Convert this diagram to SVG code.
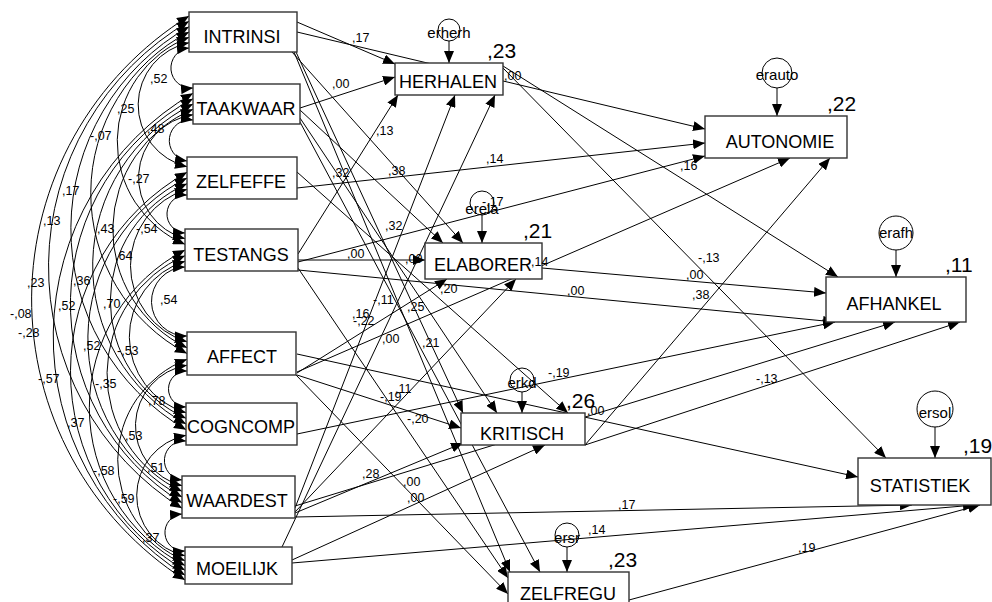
<svg xmlns="http://www.w3.org/2000/svg" width="992" height="602" viewBox="0 0 992 602">
<style>
.ln{stroke:#000;stroke-width:1;fill:none;marker-end:url(#ah)}
.cv{stroke:#000;stroke-width:1;fill:none;marker-start:url(#ah);marker-end:url(#ah)}
.box{fill:#fff;stroke:#333;stroke-width:1.4}
.ec{fill:none;stroke:#000;stroke-width:1}
text{font-family:"Liberation Sans",Arial,sans-serif;fill:#000}
.nm{font-size:18px;text-anchor:middle}
.lb{font-size:12.5px}
.r2{font-size:21px}
.er{font-size:15px;text-anchor:middle}
</style>
<defs>
<marker id="ah" viewBox="0 0 12 10" refX="12" refY="5" markerWidth="12" markerHeight="10" markerUnits="userSpaceOnUse" orient="auto-start-reverse"><path d="M0,0 L12,5 L0,10 z" fill="#000"/></marker>
</defs>
<rect width="992" height="602" fill="#fff"/>
<g id="connectors">
<path class="cv" d="M189,48 A20,20 0 0 0 193,88"/>
<path class="cv" d="M189,42.7 A63.5,63.5 0 0 0 187,166.7"/>
<path class="cv" d="M189,37.3 A111.7,111.7 0 0 0 185,244.3"/>
<path class="cv" d="M189,32 A181.5,181.5 0 0 0 187,353.5"/>
<path class="cv" d="M189,26.7 A232.4,232.4 0 0 0 186,429.7"/>
<path class="cv" d="M189,21.3 A285,285 0 0 0 182,508.3"/>
<path class="cv" d="M189,16 A333.6,333.6 0 0 0 185,580"/>
<path class="cv" d="M193,120 A20.5,20.5 0 0 0 187,161"/>
<path class="cv" d="M193,114.7 A63.5,63.5 0 0 0 185,238.7"/>
<path class="cv" d="M193,109.3 A130.7,130.7 0 0 0 187,347.7"/>
<path class="cv" d="M193,104 A180.7,180.7 0 0 0 186,424"/>
<path class="cv" d="M193,98.7 A233,233 0 0 0 182,502.7"/>
<path class="cv" d="M193,93.3 A281.8,281.8 0 0 0 185,575.2"/>
<path class="cv" d="M187,195 A19,19 0 0 0 185,233"/>
<path class="cv" d="M187,189.3 A79.7,79.7 0 0 0 187,341.8"/>
<path class="cv" d="M187,183.7 A128.4,128.4 0 0 0 186,418.3"/>
<path class="cv" d="M187,178 A180,180 0 0 0 182,497"/>
<path class="cv" d="M187,172.3 A229.2,229.2 0 0 0 185,570.3"/>
<path class="cv" d="M185,267 A34.5,34.5 0 0 0 187,336"/>
<path class="cv" d="M185,261.3 A79.1,79.1 0 0 0 186,412.7"/>
<path class="cv" d="M185,255.7 A129,129 0 0 0 182,491.3"/>
<path class="cv" d="M185,250 A177.9,177.9 0 0 0 185,565.5"/>
<path class="cv" d="M187,371 A18,18 0 0 0 186,407"/>
<path class="cv" d="M187,365.2 A61.6,61.6 0 0 0 182,485.7"/>
<path class="cv" d="M187,359.3 A108.4,108.4 0 0 0 185,560.7"/>
<path class="cv" d="M186,441 A19.5,19.5 0 0 0 182,480"/>
<path class="cv" d="M186,435.3 A61.6,61.6 0 0 0 185,555.8"/>
<path class="cv" d="M182,514 A18.5,18.5 0 0 0 185,551"/>
<line class="ln" x1="297" y1="22" x2="395" y2="64"/>
<line class="ln" x1="300" y1="108" x2="395" y2="77"/>
<line class="ln" x1="298" y1="254" x2="398" y2="95"/>
<line class="ln" x1="295" y1="508" x2="455" y2="95"/>
<line class="ln" x1="282" y1="547" x2="495" y2="95"/>
<line class="ln" x1="298" y1="260" x2="425" y2="260"/>
<line class="ln" x1="300" y1="110" x2="443" y2="243"/>
<line class="ln" x1="292" y1="52" x2="463" y2="243"/>
<line class="ln" x1="297" y1="373" x2="447" y2="279"/>
<line class="ln" x1="295" y1="512" x2="516" y2="279"/>
<line class="ln" x1="296" y1="52" x2="463" y2="413"/>
<line class="ln" x1="300" y1="118" x2="497" y2="413"/>
<line class="ln" x1="297" y1="172" x2="568" y2="413"/>
<line class="ln" x1="297" y1="375" x2="461" y2="428"/>
<line class="ln" x1="295" y1="513" x2="463" y2="443"/>
<line class="ln" x1="292" y1="560" x2="545" y2="445"/>
<line class="ln" x1="294" y1="52" x2="510" y2="572"/>
<line class="ln" x1="300" y1="122" x2="540" y2="572"/>
<line class="ln" x1="298" y1="268" x2="508" y2="578"/>
<line class="ln" x1="296" y1="375" x2="508" y2="594"/>
<line class="ln" x1="297" y1="32" x2="705" y2="129"/>
<line class="ln" x1="297" y1="188" x2="705" y2="143"/>
<line class="ln" x1="298" y1="262" x2="705" y2="156"/>
<line class="ln" x1="297" y1="372" x2="790" y2="158"/>
<line class="ln" x1="585" y1="445" x2="830" y2="158"/>
<line class="ln" x1="503" y1="66" x2="838" y2="277"/>
<line class="ln" x1="542" y1="268" x2="826" y2="293"/>
<line class="ln" x1="298" y1="270" x2="835" y2="322"/>
<line class="ln" x1="297" y1="434" x2="835" y2="322"/>
<line class="ln" x1="295" y1="506" x2="895" y2="322"/>
<line class="ln" x1="585" y1="445" x2="960" y2="322"/>
<line class="ln" x1="503" y1="68" x2="886" y2="458"/>
<line class="ln" x1="297" y1="354" x2="858" y2="477"/>
<line class="ln" x1="295" y1="517" x2="912" y2="505"/>
<line class="ln" x1="292" y1="563" x2="975" y2="505"/>
<line class="ln" x1="629" y1="600" x2="980" y2="505"/>
<line class="ln" x1="449" y1="41" x2="449" y2="63"/>
<line class="ln" x1="482" y1="215" x2="482" y2="243"/>
<line class="ln" x1="522" y1="392" x2="522" y2="413"/>
<line class="ln" x1="567" y1="547" x2="567" y2="572"/>
<line class="ln" x1="777" y1="88" x2="777" y2="116"/>
<line class="ln" x1="896" y1="250" x2="896" y2="277"/>
<line class="ln" x1="935" y1="427" x2="935" y2="458"/>
</g>
<g id="INTRINSI"><rect class="box" x="189" y="12" width="108" height="40"/><text class="nm" x="242" y="43">INTRINSI</text></g>
<g id="TAAKWAAR"><rect class="box" x="193" y="84" width="107" height="40"/><text class="nm" x="246" y="115">TAAKWAAR</text></g>
<g id="ZELFEFFE"><rect class="box" x="187" y="157" width="110" height="42"/><text class="nm" x="241" y="188">ZELFEFFE</text></g>
<g id="TESTANGS"><rect class="box" x="185" y="229" width="113" height="42"/><text class="nm" x="241" y="261">TESTANGS</text></g>
<g id="AFFECT"><rect class="box" x="187" y="332" width="109" height="43"/><text class="nm" x="242" y="363">AFFECT</text></g>
<g id="COGNCOMP"><rect class="box" x="186" y="403" width="111" height="42"/><text class="nm" x="241" y="433">COGNCOMP</text></g>
<g id="WAARDEST"><rect class="box" x="182" y="476" width="113" height="42"/><text class="nm" x="237" y="507">WAARDEST</text></g>
<g id="MOEILIJK"><rect class="box" x="185" y="547" width="107" height="37"/><text class="nm" x="237" y="575">MOEILIJK</text></g>
<g id="HERHALEN"><rect class="box" x="395" y="63" width="108" height="32"/><text class="nm" x="448" y="88">HERHALEN</text><text class="r2" x="487" y="58">,23</text></g>
<g id="ELABORER"><rect class="box" x="425" y="243" width="117" height="36"/><text class="nm" x="483" y="271">ELABORER</text><text class="r2" x="523" y="238">,21</text></g>
<g id="KRITISCH"><rect class="box" x="461" y="413" width="124" height="32"/><text class="nm" x="522" y="440">KRITISCH</text><text class="r2" x="566" y="408">,26</text></g>
<g id="ZELFREGU"><rect class="box" x="508" y="572" width="121" height="36"/><text class="nm" x="568" y="600">ZELFREGU</text><text class="r2" x="608" y="567">,23</text></g>
<g id="AUTONOMIE"><rect class="box" x="705" y="116" width="142" height="42"/><text class="nm" x="780" y="148">AUTONOMIE</text><text class="r2" x="827" y="111">,22</text></g>
<g id="AFHANKEL"><rect class="box" x="826" y="277" width="140" height="45"/><text class="nm" x="894" y="310">AFHANKEL</text><text class="r2" x="945" y="272">,11</text></g>
<g id="STATISTIEK"><rect class="box" x="858" y="458" width="133" height="47"/><text class="nm" x="920" y="492">STATISTIEK</text><text class="r2" x="963" y="453">,19</text></g>
<g id="erherh"><circle class="ec" cx="449" cy="30" r="11"/><text class="er" x="449" y="38">erherh</text></g>
<g id="erela"><circle class="ec" cx="482" cy="203" r="12"/><text class="er" x="482" y="214">erela</text></g>
<g id="erkd"><circle class="ec" cx="522" cy="380" r="12"/><text class="er" x="522" y="388">erkd</text></g>
<g id="ersr"><circle class="ec" cx="567" cy="535" r="12"/><text class="er" x="567" y="543">ersr</text></g>
<g id="erauto"><circle class="ec" cx="777" cy="73" r="15"/><text class="er" x="777" y="80">erauto</text></g>
<g id="erafh"><circle class="ec" cx="896" cy="233" r="17"/><text class="er" x="896" y="238">erafh</text></g>
<g id="ersol"><circle class="ec" cx="935" cy="409" r="18"/><text class="er" x="935" y="418">ersol</text></g>
<g id="labels" class="lb">
<text x="150" y="83">,52</text><text x="117" y="113">,25</text><text x="90" y="140">-,07</text><text x="147" y="133">,48</text>
<text x="62" y="195">,17</text><text x="128" y="183">-,27</text><text x="43" y="225">,13</text><text x="97" y="233">,43</text>
<text x="136" y="233">-,54</text><text x="115" y="260">,64</text><text x="27" y="287">,23</text><text x="73" y="285">,36</text>
<text x="10" y="318">-,08</text><text x="58" y="310">,52</text><text x="103" y="308">,70</text><text x="160" y="304">,54</text>
<text x="18" y="337">-,28</text><text x="83" y="350">,52</text><text x="117" y="355">-,53</text><text x="38" y="383">-,57</text>
<text x="95" y="388">-,35</text><text x="148" y="405">,78</text><text x="67" y="427">,37</text><text x="125" y="440">,53</text>
<text x="147" y="472">,51</text><text x="93" y="475">-,58</text><text x="113" y="503">-,59</text><text x="142" y="542">,37</text>
<text x="352" y="42">,17</text><text x="332" y="88">,00</text><text x="376" y="135">,13</text><text x="332" y="177">,32</text>
<text x="388" y="175">,38</text><text x="486" y="163">,14</text><text x="504" y="80">,00</text><text x="680" y="170">,16</text>
<text x="385" y="230">,32</text><text x="347" y="258">,00</text><text x="405" y="263">,00</text><text x="482" y="206">-,17</text>
<text x="531" y="266">,14</text><text x="440" y="293">,20</text><text x="567" y="295">,00</text><text x="373" y="304">-,11</text>
<text x="407" y="311">,25</text><text x="352" y="318">,16</text><text x="353" y="325">-,22</text><text x="382" y="343">,00</text>
<text x="422" y="347">,21</text><text x="548" y="377">-,19</text><text x="698" y="262">-,13</text><text x="686" y="279">,00</text>
<text x="692" y="299">,38</text><text x="756" y="383">-,13</text><text x="395" y="393">,11</text><text x="380" y="401">-,19</text>
<text x="407" y="423">-,20</text><text x="587" y="415">,00</text><text x="362" y="478">,28</text><text x="403" y="486">,00</text>
<text x="407" y="502">,00</text><text x="618" y="509">,17</text><text x="588" y="534">,14</text><text x="798" y="552">,19</text>
</g>
</svg>
